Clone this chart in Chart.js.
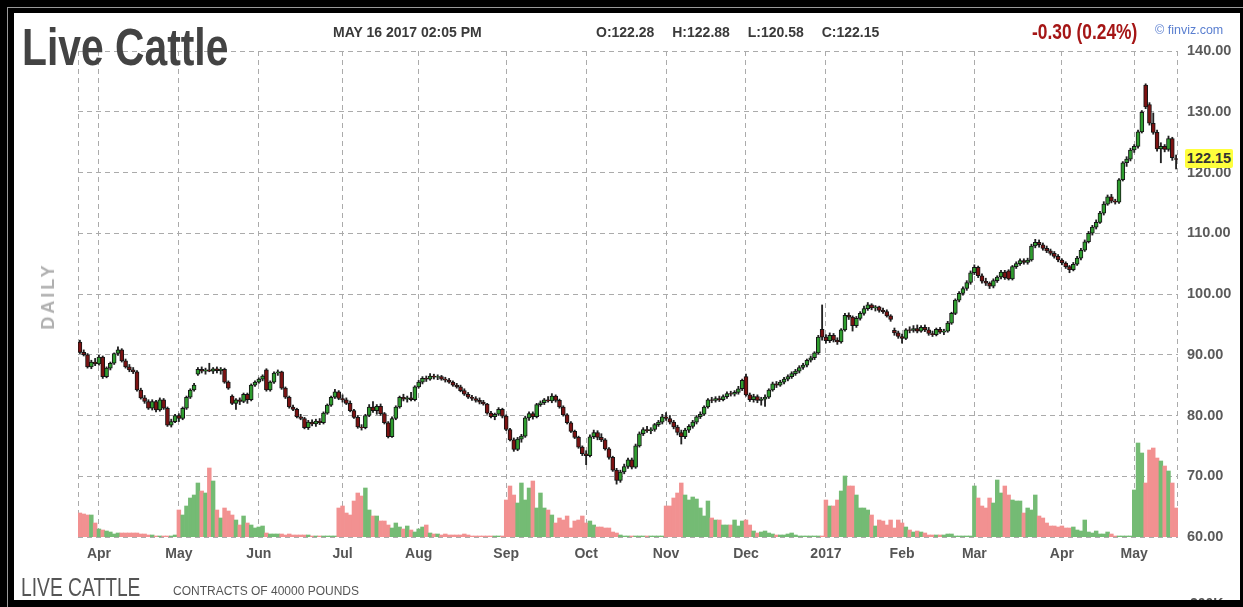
<!doctype html>
<html>

<head>
	<title>Live Cattle</title>
	<script src="https://cdn.jsdelivr.net/npm/chart.js@4.4.0/dist/chart.umd.min.js"></script>
	<style>
		body { margin: 0; width: 1243px; height: 607px; overflow: hidden; background: #fff; font-family: "Liberation Sans", Arial, sans-serif; }
		.abs { position: absolute; white-space: nowrap; line-height: 1; }
		.squeeze { transform-origin: 0 0; }
		.frame { position: absolute; background: #000; z-index: 5; }
		#chart-area { position: absolute; left: 0; top: 0; }
	</style>
</head>

<body>
	<canvas id="chart-area" width="1243" height="607"></canvas>

	<div class="abs squeeze" style="left:22px;top:22px;font-size:51px;font-weight:bold;color:#434343;transform:scaleX(0.8)">Live Cattle</div>
	<div class="abs" style="left:333px;top:25px;font-size:14px;font-weight:bold;color:#3a3a3a">MAY 16 2017 02:05 PM</div>
	<div class="abs" style="left:596px;top:25px;font-size:14px;font-weight:bold;color:#3a3a3a;word-spacing:14px">O:122.28 H:122.88 L:120.58 C:122.15</div>
	<div class="abs squeeze" style="left:1032px;top:21px;font-size:22px;font-weight:bold;color:#a51616;transform:scaleX(0.79)">-0.30 (0.24%)</div>
	<div class="abs" style="left:1155px;top:24px;font-size:12.5px;color:#5a7fd0">&copy; finviz.com</div>
	<div class="abs" style="left:48px;top:296px;font-size:18px;font-weight:bold;color:#b0b0b0;letter-spacing:3px;transform:translate(-50%,-50%) rotate(-90deg)">DAILY</div>
	<div id="lastLabel" class="abs" style="left:1185px;top:148px;width:48px;height:19px;line-height:19px;text-align:center;background:#ffff3c;border-radius:2px;font-size:14.5px;font-weight:bold;color:#333">122.15</div>
	<div class="abs squeeze" style="left:21px;top:575px;font-size:25px;color:#555;transform:scaleX(0.77)">LIVE CATTLE</div>
	<div class="abs" style="left:173px;top:585px;font-size:12px;color:#555">CONTRACTS OF 40000 POUNDS</div>
	<div class="abs" style="left:1190px;top:596px;font-size:14px;font-weight:bold;color:#555">200K</div>

	<div class="frame" style="left:0;top:0;width:1243px;height:13px"></div>
	<div class="frame" style="left:0;top:600px;width:1243px;height:7px"></div>
	<div class="frame" style="left:0;top:0;width:14px;height:607px"></div>
	<div class="frame" style="left:1240px;top:0;width:3px;height:607px"></div>
	<div style="position:absolute;left:7px;top:7px;width:1236px;height:600px;border-left:1px solid #9a9a9a;border-top:1px solid #9a9a9a;z-index:6"></div>

	<script>
		// trading calendar (CME live cattle, daily bars)
		var firstDay = '2016-03-24';
		var lastDay = '2017-05-16';
		var holidays = ['2016-03-25', '2016-05-30', '2016-07-04', '2016-09-05', '2016-11-24',
			'2016-12-26', '2017-01-02', '2017-01-16', '2017-02-20', '2017-04-14'];
		var monthNames = ['Jan', 'Feb', 'Mar', 'Apr', 'May', 'Jun', 'Jul', 'Aug', 'Sep', 'Oct', 'Nov', 'Dec'];

		var opens = [
			92.1, 90.4, 90.0, 88.0, 88.8, 88.5, 89.6, 86.4, 87.8, 88.6,
			90.2, 90.8, 89.0, 88.0, 87.5, 87.2, 84.2, 82.9, 82.3, 81.2,
			82.3, 80.9, 82.6, 81.2, 78.4, 79.0, 80.0, 79.5, 81.2, 83.0,
			84.2, 86.8, 87.6, 87.3, 87.5, 87.3, 87.7, 87.4, 87.6, 85.5,
			83.2, 82.0, 82.6, 82.3, 83.5, 82.6, 85.0, 85.5, 86.0, 87.5,
			84.2, 85.5, 87.0, 87.2, 84.5, 83.0, 81.4, 81.0, 79.8, 79.5,
			78.0, 78.9, 78.6, 79.1, 78.8, 80.4, 81.7, 83.0, 83.9, 82.8,
			82.6, 82.0, 80.8, 79.7, 78.1, 78.0, 80.0, 81.4, 80.8, 81.5,
			80.3, 78.8, 76.5, 79.5, 81.4, 83.0, 82.7, 82.9, 82.6, 84.7,
			85.5, 86.1, 86.0, 86.5, 86.3, 86.4, 86.0, 85.8, 85.5, 85.0,
			84.7, 84.1, 83.5, 83.0, 82.8, 82.5, 82.2, 81.9, 80.4, 79.8,
			80.2, 81.0, 79.9, 77.7, 76.0, 74.4, 76.1, 76.6, 79.6, 80.3,
			79.8, 81.8, 82.1, 82.6, 82.4, 83.2, 82.5, 81.4, 80.1, 78.8,
			77.4, 76.4, 74.8, 73.7, 73.4, 76.5, 77.2, 76.4, 76.0, 74.5,
			73.1, 71.0, 69.3, 70.7, 71.6, 72.7, 71.5, 75.0, 77.0, 77.7,
			77.5, 77.7, 78.5, 78.9, 79.8, 79.5, 78.9, 78.1, 77.2, 76.5,
			77.6, 78.2, 78.9, 79.8, 80.2, 81.4, 82.6, 82.5, 82.8, 82.6,
			83.1, 83.6, 83.5, 83.8, 84.4, 86.4, 83.4, 82.6, 83.1, 82.5,
			82.7, 83.0, 84.2, 85.2, 85.0, 85.5, 86.0, 86.4, 86.9, 87.3,
			87.9, 88.3, 89.1, 89.5, 90.3, 94.2, 92.9, 92.3, 93.2, 92.4,
			92.1, 94.1, 96.5, 96.2, 94.8, 96.0, 96.8, 97.6, 98.2, 97.7,
			97.9, 97.3, 97.1, 96.4, 94.0, 93.6, 93.0, 92.7, 94.1, 94.0,
			94.3, 93.9, 94.5, 94.1, 93.5, 93.3, 94.2, 93.7, 93.9, 95.2,
			96.8, 99.0, 100.1, 100.9, 101.9, 103.5, 104.4, 103.0, 102.1, 101.8,
			101.3, 102.2, 102.8, 103.6, 103.8, 102.5, 104.5, 105.0, 105.5, 105.2,
			105.6, 107.9, 108.5, 108.1, 107.5, 107.1, 106.7, 106.2, 105.6, 105.1,
			104.5, 104.0, 104.9, 105.9, 107.2, 108.6, 110.0, 111.0, 111.8, 113.3,
			114.8, 116.0, 115.3, 115.1, 118.8, 121.6, 122.2, 123.7, 124.3, 126.7,
			134.4, 131.2, 128.1, 126.6, 123.9, 124.3, 123.8, 125.6, 122.28
		];
		var highs = [
			92.4, 90.8, 90.2, 89.1, 89.4, 89.9, 89.8, 88.0, 88.8, 90.3,
			91.3, 91.0, 89.3, 88.4, 87.9, 87.4, 84.5, 83.3, 82.6, 82.6,
			82.5, 82.9, 82.8, 81.4, 79.4, 80.2, 80.3, 81.4, 83.2, 84.4,
			85.3, 87.9, 88.0, 87.8, 88.6, 87.9, 88.0, 87.9, 87.8, 85.7,
			83.4, 82.8, 82.9, 83.7, 83.7, 85.2, 85.7, 86.2, 86.7, 87.7,
			85.7, 87.2, 87.5, 87.3, 84.7, 83.2, 81.7, 81.2, 80.2, 79.7,
			79.2, 79.3, 79.4, 79.5, 80.6, 81.9, 83.2, 84.3, 84.1, 83.4,
			82.9, 82.4, 81.0, 80.0, 78.5, 80.2, 81.8, 82.3, 81.8, 81.9,
			80.5, 79.0, 79.8, 81.6, 83.2, 83.5, 83.2, 83.8, 84.9, 85.8,
			86.4, 86.5, 86.9, 86.8, 86.7, 86.6, 86.3, 86.1, 85.7, 85.3,
			85.0, 84.4, 83.8, 83.3, 83.1, 82.9, 82.5, 82.0, 80.7, 80.4,
			81.3, 81.2, 80.1, 77.9, 76.3, 76.4, 76.9, 79.9, 80.6, 80.6,
			82.0, 82.4, 82.8, 83.1, 83.6, 83.4, 82.7, 81.6, 80.3, 79.0,
			77.6, 76.6, 75.0, 74.2, 76.8, 77.6, 77.5, 77.0, 76.2, 74.7,
			73.3, 71.3, 71.0, 72.0, 73.0, 73.0, 75.3, 77.3, 78.0, 78.2,
			78.0, 78.7, 79.2, 80.2, 80.5, 80.0, 79.2, 78.4, 77.6, 77.9,
			78.5, 79.2, 80.0, 80.6, 81.6, 82.8, 83.0, 83.1, 83.2, 83.4,
			83.9, 84.0, 84.1, 84.8, 86.0, 86.8, 83.7, 83.5, 83.4, 83.0,
			83.4, 84.4, 85.5, 85.6, 85.8, 86.3, 86.7, 87.2, 87.6, 88.2,
			88.6, 89.3, 89.8, 90.5, 93.2, 98.2, 93.3, 93.6, 93.5, 92.8,
			94.3, 96.8, 96.9, 96.4, 96.3, 97.1, 98.0, 98.6, 98.4, 98.1,
			98.0, 97.7, 97.4, 96.6, 94.4, 93.9, 93.4, 94.3, 94.6, 94.8,
			94.9, 94.8, 94.9, 94.5, 93.9, 94.4, 94.5, 94.2, 95.5, 97.0,
			99.2, 100.4, 101.2, 102.2, 103.8, 104.8, 104.6, 103.3, 102.6, 102.0,
			102.5, 103.0, 103.9, 103.9, 104.0, 104.7, 105.3, 105.8, 105.8, 105.9,
			108.2, 109.0, 108.9, 108.4, 107.9, 107.4, 107.0, 106.5, 105.8, 105.3,
			104.7, 105.2, 106.2, 107.5, 108.9, 110.3, 111.3, 112.2, 113.6, 115.2,
			116.3, 116.4, 115.6, 119.0, 121.8, 122.6, 124.0, 124.6, 127.0, 130.2,
			134.6, 131.5, 129.8, 127.0, 124.9, 124.6, 126.0, 125.8, 122.88
		];
		var lows = [
			90.2, 89.8, 87.8, 87.7, 88.2, 88.3, 86.1, 86.2, 87.5, 88.4,
			89.9, 88.8, 87.8, 87.2, 86.9, 84.0, 82.7, 82.0, 81.0, 80.9,
			80.6, 80.7, 81.0, 78.2, 78.1, 78.8, 79.0, 79.3, 81.0, 82.8,
			84.0, 86.6, 87.0, 86.8, 87.2, 86.9, 87.0, 86.8, 85.3, 84.3,
			81.8, 81.0, 81.8, 82.1, 82.0, 82.4, 84.8, 85.3, 85.7, 84.0,
			84.0, 85.3, 86.6, 84.3, 82.8, 81.2, 80.8, 79.6, 79.3, 77.8,
			77.7, 78.3, 78.2, 78.5, 78.6, 80.2, 81.5, 82.8, 82.6, 82.2,
			81.8, 80.6, 79.5, 77.9, 77.6, 77.8, 79.8, 80.5, 80.2, 80.0,
			78.6, 76.3, 76.4, 79.3, 81.2, 82.4, 82.2, 82.4, 82.4, 84.5,
			85.2, 85.6, 85.8, 86.0, 85.9, 85.8, 85.5, 85.3, 84.8, 84.5,
			83.9, 83.3, 82.8, 82.5, 82.2, 81.9, 81.7, 80.2, 79.6, 79.3,
			80.0, 79.6, 77.5, 75.8, 74.1, 74.2, 75.6, 76.4, 79.2, 79.4,
			79.6, 81.5, 81.8, 82.2, 82.1, 82.2, 81.2, 79.9, 78.6, 77.2,
			76.2, 74.6, 73.4, 71.9, 73.2, 76.2, 76.0, 75.7, 74.3, 72.8,
			70.8, 68.7, 69.0, 70.4, 71.3, 71.2, 71.3, 74.8, 76.7, 77.2,
			77.0, 77.4, 78.2, 78.6, 79.2, 78.6, 77.8, 76.8, 75.3, 76.2,
			77.2, 77.9, 78.6, 79.5, 80.0, 81.2, 82.1, 82.2, 82.3, 82.4,
			82.8, 83.2, 83.2, 83.5, 84.1, 83.2, 82.3, 82.2, 82.1, 81.7,
			81.5, 82.8, 84.0, 84.6, 84.8, 85.2, 85.7, 86.1, 86.6, 87.0,
			87.6, 88.0, 88.8, 89.2, 90.1, 92.4, 91.9, 92.0, 92.1, 91.7,
			91.9, 93.9, 95.8, 93.9, 94.5, 95.7, 96.5, 97.3, 97.4, 97.2,
			97.0, 96.8, 96.2, 95.5, 93.2, 92.7, 91.9, 92.5, 93.6, 93.7,
			93.6, 93.7, 93.8, 93.2, 93.0, 93.1, 93.5, 93.3, 93.7, 95.0,
			96.6, 98.7, 99.8, 100.6, 101.6, 103.2, 102.7, 101.8, 101.4, 100.9,
			101.0, 101.9, 102.5, 102.4, 102.3, 102.3, 104.2, 104.7, 104.9, 104.9,
			105.4, 107.6, 107.7, 107.2, 106.8, 106.4, 105.9, 105.3, 104.8, 104.2,
			103.5, 103.8, 104.7, 105.6, 107.0, 108.4, 109.7, 110.7, 111.6, 113.0,
			114.6, 115.0, 114.8, 114.9, 118.6, 121.0, 121.9, 123.3, 124.0, 126.5,
			130.5, 127.8, 126.3, 123.5, 121.6, 123.4, 123.5, 122.0, 120.58
		];
		var closes = [
			90.4, 90.0, 88.0, 88.8, 88.5, 89.6, 86.4, 87.8, 88.6, 90.2,
			90.8, 89.0, 88.0, 87.5, 87.2, 84.2, 82.9, 82.3, 81.2, 82.3,
			80.9, 82.6, 81.2, 78.4, 79.0, 80.0, 79.5, 81.2, 83.0, 84.2,
			85.0, 87.6, 87.3, 87.5, 87.3, 87.7, 87.4, 87.6, 85.5, 84.5,
			82.0, 82.6, 82.3, 83.5, 82.6, 85.0, 85.5, 86.0, 86.5, 84.2,
			85.5, 87.0, 87.2, 84.5, 83.0, 81.4, 81.0, 79.8, 79.5, 78.0,
			78.9, 78.6, 79.1, 78.8, 80.4, 81.7, 83.0, 83.9, 82.8, 82.6,
			82.0, 80.8, 79.7, 78.1, 78.0, 80.0, 81.4, 80.8, 81.5, 80.3,
			78.8, 76.5, 79.5, 81.4, 83.0, 82.7, 82.9, 82.6, 84.7, 85.5,
			86.1, 86.0, 86.5, 86.3, 86.4, 86.0, 85.8, 85.5, 85.0, 84.7,
			84.1, 83.5, 83.0, 82.8, 82.5, 82.2, 81.9, 80.4, 79.8, 80.2,
			81.0, 79.9, 77.7, 76.0, 74.4, 76.1, 76.6, 79.6, 80.3, 79.8,
			81.8, 82.1, 82.6, 82.4, 83.2, 82.5, 81.4, 80.1, 78.8, 77.4,
			76.4, 74.8, 73.7, 73.4, 76.5, 77.2, 76.4, 76.0, 74.5, 73.1,
			71.0, 69.3, 70.7, 71.6, 72.7, 71.5, 75.0, 77.0, 77.7, 77.5,
			77.7, 78.5, 78.9, 79.8, 79.5, 78.9, 78.1, 77.2, 76.5, 77.6,
			78.2, 78.9, 79.8, 80.2, 81.4, 82.6, 82.5, 82.8, 82.6, 83.1,
			83.6, 83.5, 83.8, 84.4, 85.8, 83.4, 82.6, 83.1, 82.5, 82.7,
			83.0, 84.2, 85.2, 85.0, 85.5, 86.0, 86.4, 86.9, 87.3, 87.9,
			88.3, 89.1, 89.5, 90.3, 92.9, 92.9, 92.3, 93.2, 92.4, 92.1,
			94.1, 96.5, 96.2, 94.8, 96.0, 96.8, 97.6, 98.2, 97.7, 97.9,
			97.3, 97.1, 96.4, 95.8, 93.6, 93.0, 92.7, 94.1, 94.0, 94.3,
			93.9, 94.5, 94.1, 93.5, 93.3, 94.2, 93.7, 93.9, 95.2, 96.8,
			99.0, 100.1, 100.9, 101.9, 103.5, 104.4, 103.0, 102.1, 101.8, 101.3,
			102.2, 102.8, 103.6, 102.7, 102.5, 104.5, 105.0, 105.5, 105.2, 105.6,
			107.9, 108.5, 108.1, 107.5, 107.1, 106.7, 106.2, 105.6, 105.1, 104.5,
			104.0, 104.9, 105.9, 107.2, 108.6, 110.0, 111.0, 111.8, 113.3, 114.8,
			116.0, 115.3, 115.1, 118.8, 121.6, 122.2, 123.7, 124.3, 126.7, 129.9,
			130.8, 128.1, 126.6, 123.9, 124.3, 123.8, 125.6, 122.45, 122.15
		];
		var volumes = [
			2400, 2300, 2200, 2200, 1400, 800, 700, 600, 500, 300,
			400, 400, 400, 400, 400, 400, 300, 300, 200, 200,
			100, 100, 100, 100, 100, 200, 2700, 2200, 3100, 3900,
			4200, 5400, 4600, 4400, 6900, 5600, 2700, 1900, 2900, 2600,
			2200, 1700, 1200, 2100, 1400, 1200, 900, 1000, 1100, 400,
			300, 300, 300, 300, 200, 300, 200, 200, 200, 200,
			200, 100, 100, 100, 100, 100, 100, 100, 2900, 3100,
			2400, 2200, 3600, 4400, 4100, 4900, 2700, 2100, 2100, 1600,
			1600, 1200, 900, 1400, 1000, 800, 1100, 700, 500, 800,
			1000, 1200, 400, 300, 300, 200, 300, 200, 200, 200,
			200, 300, 200, 100, 100, 100, 100, 100, 100, 100,
			100, 100, 3700, 5100, 4200, 3400, 5400, 3700, 4900, 5600,
			2900, 4400, 2900, 2700, 2200, 1400, 1900, 1700, 2100, 900,
			1600, 1700, 2100, 1400, 1600, 1200, 1000, 1000, 900, 900,
			500, 400, 200, 100, 100, 100, 100, 100, 100, 100,
			100, 100, 100, 100, 3100, 3100, 3900, 4400, 5400, 4200,
			3700, 4000, 3800, 2900, 2100, 3600, 1900, 1700, 1700, 1200,
			1200, 1200, 1700, 1100, 1600, 1700, 1200, 600, 400, 500,
			600, 400, 300, 200, 200, 200, 300, 400, 200, 100,
			100, 100, 100, 100, 100, 100, 3700, 3100, 3100, 3700,
			4600, 6100, 5100, 5100, 4200, 2900, 2900, 2700, 2200, 1100,
			1700, 1600, 1200, 1700, 900, 1700, 1400, 1000, 700, 500,
			600, 500, 400, 200, 200, 200, 200, 200, 300, 300,
			100, 100, 100, 100, 100, 5100, 3900, 3100, 2900, 3900,
			3400, 5700, 4400, 5100, 4200, 3700, 3600, 3600, 2400, 2900,
			2700, 4200, 2100, 1900, 1400, 1100, 1100, 1000, 1100, 900,
			900, 1000, 700, 600, 1700, 500, 400, 600, 300, 300,
			500, 300, 100, 100, 100, 100, 100, 4700, 9400, 8400,
			5400, 8700, 8900, 7900, 7600, 7100, 6600, 5400, 2900
		];
		var priceTicks = [60, 70, 80, 90, 100, 110, 120, 130, 140];
		var volumeMax = 48600; // volume bars only use the lower part of the panel

		// weekdays that the exchange was open
		var dates = [];
		var end = new Date(lastDay + 'T00:00:00Z');
		for (var d = new Date(firstDay + 'T00:00:00Z'); d <= end; d.setUTCDate(d.getUTCDate() + 1)) {
			var iso = d.toISOString().slice(0, 10);
			var wd = d.getUTCDay();
			if (wd == 0 || wd == 6 || holidays.indexOf(iso) >= 0) continue;
			dates.push(iso);
		}

		var gridColor = '#ababab';
		var gridDash = [5, 4];
		var upBody = '#2f9d2f', downBody = '#7c1212';
		var upVol = '#74bb74', downVol = '#f29191';

		var bodyColors = [], volColors = [];
		for (var i = 0; i < closes.length; i++) {
			var up = closes[i] >= opens[i];
			bodyColors.push(up ? upBody : downBody);
			volColors.push(up ? upVol : downVol);
		}

		var plotEdges = {
			id: 'plotEdges',
			beforeDatasetsDraw: function(chart) {
				var a = chart.chartArea, ctx = chart.ctx;
				ctx.save();
				ctx.strokeStyle = gridColor;
				ctx.lineWidth = 1;
				ctx.setLineDash(gridDash);
				ctx.beginPath();
				ctx.moveTo(a.left + 0.5, a.top); ctx.lineTo(a.left + 0.5, a.bottom);
				ctx.moveTo(a.right - 0.5, a.top); ctx.lineTo(a.right - 0.5, a.bottom);
				ctx.stroke();
				ctx.restore();
			},
			afterDraw: function(chart) {
				var y = chart.scales.y.getPixelForValue(closes[closes.length - 1]);
				document.getElementById('lastLabel').style.top = (y - 10) + 'px';
			}
		};

		var config = {
			type: 'bar',
			data: {
				labels: dates,
				datasets: [{
					label: 'Volume',
					data: volumes,
					yAxisID: 'yVol',
					backgroundColor: volColors,
					barPercentage: 1,
					categoryPercentage: 1,
					grouped: false,
					order: 3
				}, {
					label: 'High-Low',
					data: lows.map(function(l, i) { return [l, highs[i]]; }),
					yAxisID: 'y',
					backgroundColor: '#222',
					barThickness: 1.2,
					grouped: false,
					order: 2
				}, {
					label: 'Open-Close',
					data: opens.map(function(o, i) { return [o, closes[i]]; }),
					yAxisID: 'y',
					backgroundColor: bodyColors,
					borderColor: '#151515',
					borderWidth: 1,
					borderSkipped: false,
					barThickness: 4,
					grouped: false,
					order: 1
				}]
			},
			options: {
				responsive: false,
				animation: false,
				layout: { padding: { left: 78, top: 51, right: 3, bottom: 40 } },
				plugins: { legend: { display: false }, tooltip: { enabled: false } },
				scales: {
					x: {
						afterFit: function(scale) { scale.height = 30; },
						grid: { color: gridColor, drawTicks: false, offset: false },
						border: { display: false, dash: gridDash },
						ticks: {
							autoSkip: false,
							maxRotation: 0,
							minRotation: 0,
							padding: 9,
							color: '#555',
							font: { family: '"Liberation Sans", Arial, sans-serif', size: 14, weight: 'bold' },
							callback: function(value, index) {
								var cur = dates[index], prev = dates[index - 1];
								if (!prev || cur.slice(5, 7) == prev.slice(5, 7)) return null;
								var m = +cur.slice(5, 7) - 1;
								return m == 0 ? cur.slice(0, 4) : monthNames[m];
							}
						}
					},
					y: {
						position: 'right',
						min: priceTicks[0],
						max: priceTicks[priceTicks.length - 1],
						afterFit: function(scale) { scale.width = 62; },
						afterBuildTicks: function(scale) {
							scale.ticks = priceTicks.map(function(v) { return { value: v }; });
						},
						grid: { color: gridColor, drawTicks: false },
						border: { display: false, dash: gridDash },
						ticks: {
							padding: 9,
							color: '#5a5a5a',
							font: { family: '"Liberation Sans", Arial, sans-serif', size: 14.5, weight: 'bold' },
							callback: function(v) { return Number(v).toFixed(2); }
						}
					},
					yVol: {
						display: false,
						min: 0,
						max: volumeMax
					}
				}
			},
			plugins: [plotEdges]
		};

		window.onload = function() {
			var ctx = document.getElementById('chart-area').getContext('2d');
			window.myChart = new Chart(ctx, config);
		};
	</script>
</body>

</html>
